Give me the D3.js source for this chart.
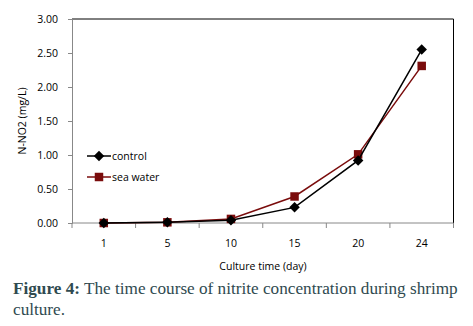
<!DOCTYPE html>
<html><head><meta charset="utf-8">
<script src="https://cdn.jsdelivr.net/npm/d3@7/dist/d3.min.js"></script>
<style>body{margin:0;background:#fff;}svg{display:block;}</style>
</head><body>
<svg id="c" width="473" height="326"></svg>
<script>
const categories = ["1","5","10","15","20","24"];
const controlValues = [0.00, 0.01, 0.04, 0.23, 0.92, 2.55];
const seaWaterValues = [0.00, 0.01, 0.06, 0.39, 1.01, 2.31];
const yTicks = [0, 0.5, 1.0, 1.5, 2.0, 2.5, 3.0];
const seriesNames = ["control", "sea water"];

const svg = d3.select("#c");
const L = 72, R = 453.5, T = 19, B = 223;
const font = "'Open Sans', 'Liberation Sans', sans-serif";

const x = d3.scaleBand().domain(categories).range([L, R]);
const y = d3.scaleLinear().domain([0, 3]).range([B, T]);

// frame (top and right)
svg.append("path").attr("d", `M${L},${T}H${R}V${B}`).attr("fill","none").attr("stroke","#000").attr("stroke-width",1);

// y axis
const ya = svg.append("g").attr("transform", `translate(${L},0)`)
  .call(d3.axisLeft(y).tickValues(yTicks).tickFormat(d3.format(".2f")).tickSize(4).tickPadding(10));
ya.select(".domain").attr("stroke","#888");
ya.selectAll(".tick line").attr("stroke","#888");
ya.selectAll("text").attr("font-family", font).attr("font-size", 10.5).attr("fill","#000");

// x axis with boundary ticks
const xa = svg.append("g").attr("transform", `translate(0,${B})`)
  .call(d3.axisBottom(x).tickSize(0).tickPadding(17));
xa.select(".domain").attr("stroke","#888").attr("d", `M${L},0H${R}`);
xa.selectAll("text").attr("font-family", font).attr("font-size", 10.5).attr("fill","#000");
const bounds = categories.map(c => x(c)).concat([R]);
xa.selectAll(".bt").data(bounds).enter().append("line").attr("class","bt")
  .attr("x1", d=>d).attr("x2", d=>d).attr("y1",0).attr("y2",5).attr("stroke","#888");

// axis titles
svg.append("text").attr("x", 263).attr("y", 270).attr("text-anchor","middle")
  .attr("font-family", font).attr("font-size", 10.5).text("Culture time (day)");
svg.append("text").attr("transform", "translate(26,121) rotate(-90)").attr("text-anchor","middle")
  .attr("font-family", font).attr("font-size", 10.5).text("N-NO2 (mg/L)");

const cx = c => x(c) + x.bandwidth()/2;
const line = d3.line().x((d,i)=>cx(categories[i])).y(d=>y(d));

const colors = ["#000000", "#7a0c0c"];
const diamond = d3.symbol().type(d3.symbolDiamond2).size(70);
const square = d3.symbol().type(d3.symbolSquare).size(72);

function drawSeries(vals, color, sym) {
  svg.append("path").attr("d", line(vals)).attr("fill","none").attr("stroke", color).attr("stroke-width", 1.5);
  svg.selectAll(null).data(vals).enter().append("path")
    .attr("transform", (d,i)=>`translate(${cx(categories[i])},${y(d)})`)
    .attr("d", sym()).attr("fill", color);
}
drawSeries(seaWaterValues, colors[1], square);
drawSeries(controlValues, colors[0], diamond);

// legend
const leg = [{n: seriesNames[0], c: colors[0], s: diamond, y: 156}, {n: seriesNames[1], c: colors[1], s: square, y: 177}];
leg.forEach(l => {
  svg.append("line").attr("x1", 87).attr("x2", 111).attr("y1", l.y).attr("y2", l.y).attr("stroke", l.c).attr("stroke-width", 1.5);
  svg.append("path").attr("transform", `translate(99,${l.y})`).attr("d", l.s()).attr("fill", l.c);
  svg.append("text").attr("x", 112).attr("y", l.y + 4).attr("font-family", font).attr("font-size", 10.5).text(l.n);
});

// caption
const capFont = "'Liberation Serif', 'DejaVu Serif', serif";
const cap = svg.append("text").attr("x", 13).attr("y", 294).attr("font-family", capFont).attr("font-size", 17).attr("fill", "#2f4a50");
cap.append("tspan").attr("font-weight","bold").text("Figure 4:");
cap.append("tspan").text(" The time course of nitrite concentration during shrimp");
const w = cap.node().getComputedTextLength();
cap.attr("font-size", 17 * 445 / w);
svg.append("text").attr("x", 13).attr("y", 315).attr("font-family", capFont).attr("font-size", 17 * 445 / w).attr("fill", "#2f4a50").text("culture.");
</script>
</body></html>
